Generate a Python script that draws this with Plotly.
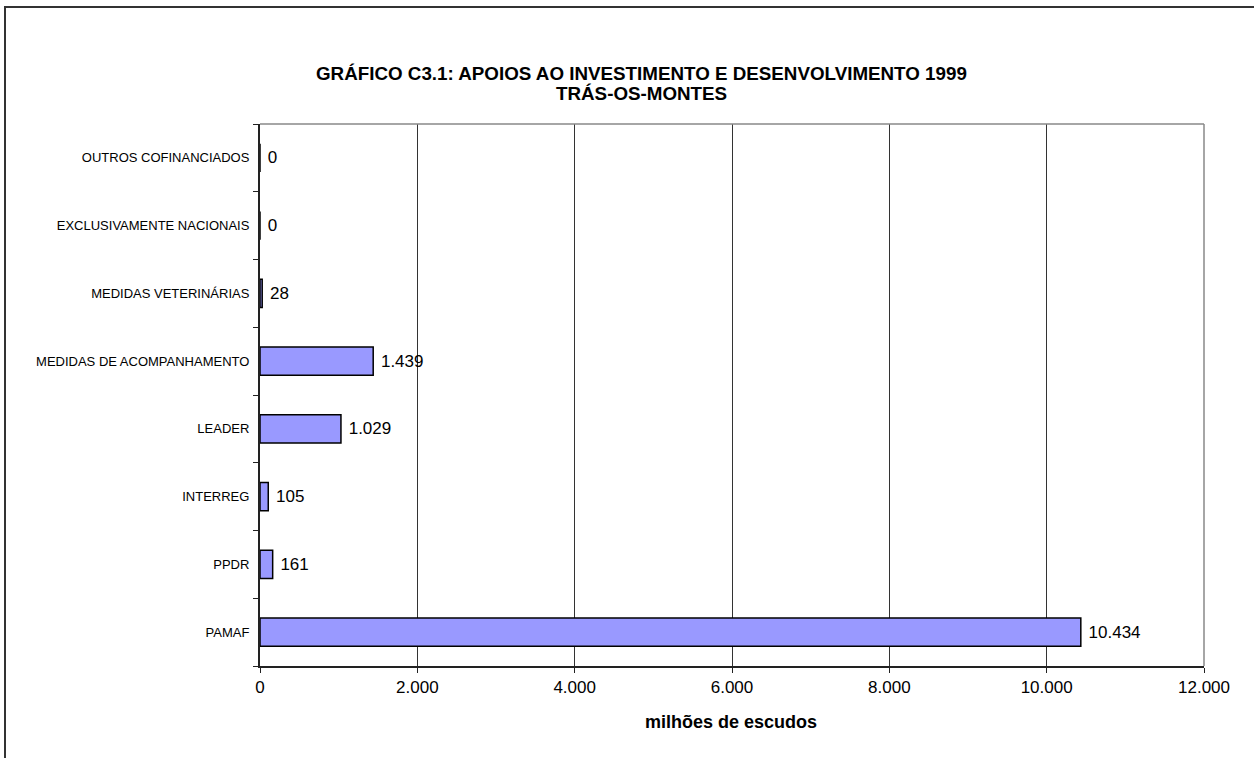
import plotly.graph_objects as go

categories = ["PAMAF", "PPDR", "INTERREG", "LEADER", "MEDIDAS DE ACOMPANHAMENTO",
              "MEDIDAS VETERINÁRIAS", "EXCLUSIVAMENTE NACIONAIS", "OUTROS COFINANCIADOS"]
values = [10434, 161, 105, 1029, 1439, 28, 0, 0]
x_ticks = [0, 2000, 4000, 6000, 8000, 10000, 12000]

FONT = "Liberation Sans, Arial, sans-serif"
BAR = "#9999ff"
DARK = "#222222"
GRID = "#333333"

W, H = 1254, 758
L, R, T, B = 260, 50, 124, 92
pw, ph = W - L - R, H - T - B


def px_x(p):
    return (p - L) / pw


def px_y(p):
    return (H - B - p) / ph


fig = go.Figure(go.Bar(
    x=values, y=categories, orientation="h",
    marker=dict(color=BAR, line=dict(color="black", width=1.5)),
    width=0.42,
    texttemplate=" %{x:,}", textposition="outside",
    textfont=dict(family=FONT, size=17, color="black"),
    cliponaxis=False,
))

fig.update_layout(
    width=W, height=H,
    paper_bgcolor="white", plot_bgcolor="white",
    separators=",.",
    font=dict(family=FONT, color="black"),
    margin=dict(l=L, r=R, t=T, b=B),
    showlegend=False,
    annotations=[
        dict(text="<b>GRÁFICO C3.1: APOIOS AO INVESTIMENTO E DESENVOLVIMENTO 1999</b>",
             xref="paper", yref="paper", x=px_x(641), y=px_y(73),
             showarrow=False, font=dict(size=18.8, family=FONT), xanchor="center", yanchor="middle"),
        dict(text="<b>TRÁS-OS-MONTES</b>",
             xref="paper", yref="paper", x=px_x(641), y=px_y(93),
             showarrow=False, font=dict(size=18.8, family=FONT), xanchor="center", yanchor="middle"),
        dict(text="<b>milhões de escudos</b>",
             xref="paper", yref="paper", x=px_x(731), y=px_y(722),
             showarrow=False, font=dict(size=18, family=FONT), xanchor="center", yanchor="middle"),
    ],
    shapes=[
        # outer chart frame (runs off the right and bottom of the image)
        dict(type="rect", xref="paper", yref="paper",
             x0=px_x(5), x1=px_x(1290), y0=px_y(800), y1=px_y(7),
             line=dict(color="#333333", width=2)),
        # plot-area top and right edges
        dict(type="line", xref="paper", yref="paper", x0=0, x1=1, y0=1, y1=1,
             line=dict(color="#888888", width=1.5)),
        dict(type="line", xref="paper", yref="paper", x0=1, x1=1, y0=0, y1=1,
             line=dict(color="#888888", width=1.5)),
    ],
)

fig.update_xaxes(
    range=[0, 12000], tickvals=x_ticks, tickformat=",",
    showgrid=True, gridcolor=GRID, gridwidth=1,
    showline=True, linecolor=DARK, linewidth=1.5,
    ticks="outside", ticklen=5, tickcolor=DARK,
    tickfont=dict(size=17, family=FONT), zeroline=False,
)
fig.update_yaxes(
    showgrid=False, showline=True, linecolor=DARK, linewidth=2,
    ticks="outside", ticklen=5, tickcolor=DARK, tickson="boundaries",
    tickfont=dict(size=13, family=FONT), ticklabelstandoff=6,
)

fig.write_html("out.html", config={"displayModeBar": False},
               post_script="document.body.style.margin='0px';")
